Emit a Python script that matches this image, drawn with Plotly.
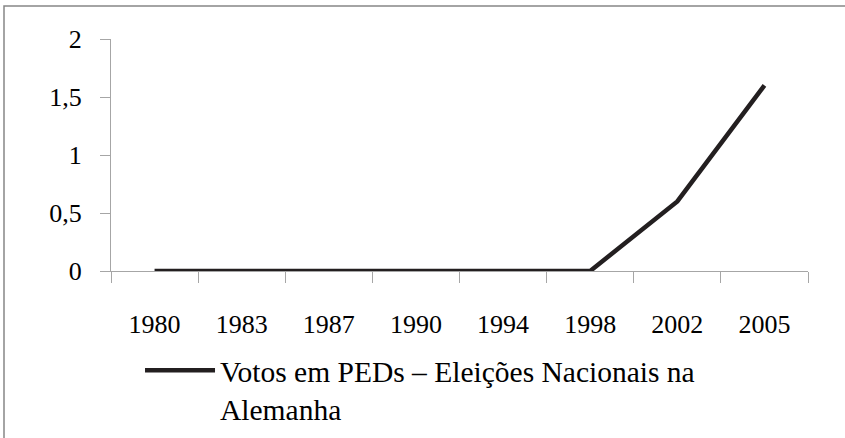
import plotly.graph_objects as go

years = ["1980", "1983", "1987", "1990", "1994", "1998", "2002", "2005"]
votes = [0, 0, 0, 0, 0, 0, 0.6, 1.6]
series_name = "Votos em PEDs – Eleições Nacionais na<br>Alemanha"
y_ticks = [0, 0.5, 1, 1.5, 2]

FONT = "Liberation Serif"
AX = "#a6a6a6"

fig = go.Figure()
fig.add_trace(go.Scatter(
    x=years, y=votes, mode="lines", name=series_name,
    line=dict(color="#231f20", width=4.5),
    showlegend=True,
))

fig.update_layout(
    width=845, height=438,
    paper_bgcolor="white", plot_bgcolor="white",
    margin=dict(l=111, r=37, t=39, b=167, autoexpand=False),
    font=dict(family=FONT, size=26, color="black"),
    separators=",.",
    showlegend=True,
    legend=dict(
        orientation="h", xref="container", yref="container",
        x=0.1657, xanchor="left", y=0.2135, yanchor="top",
        valign="top", itemwidth=70, font=dict(size=29.5, family=FONT),
        bgcolor="rgba(0,0,0,0)",
    ),
    xaxis=dict(
        type="category", range=[-0.5, 7.5], tickson="boundaries",
        showline=True, linecolor=AX, linewidth=1, automargin=False,
        ticks="outside", ticklen=11, tickcolor=AX, showgrid=False,
        zeroline=False, ticklabelstandoff=30,
    ),
    yaxis=dict(
        range=[0, 2], tickvals=y_ticks, showline=True, linecolor=AX, linewidth=1,
        ticks="outside", ticklen=10, tickcolor=AX, showgrid=False, automargin=False,
        zeroline=False, ticklabelstandoff=13,
    ),
    shapes=[dict(
        type="rect", xref="paper", yref="paper",
        x0=-107/697, x1=(850-111)/697, y0=-0.9, y1=(271-6)/232,
        line=dict(color="#868686", width=1.5), fillcolor="rgba(0,0,0,0)",
        layer="below",
    )],
)

fig.write_html("out.html", config={"displayModeBar": False},
               post_script="document.body.style.margin='0';")
